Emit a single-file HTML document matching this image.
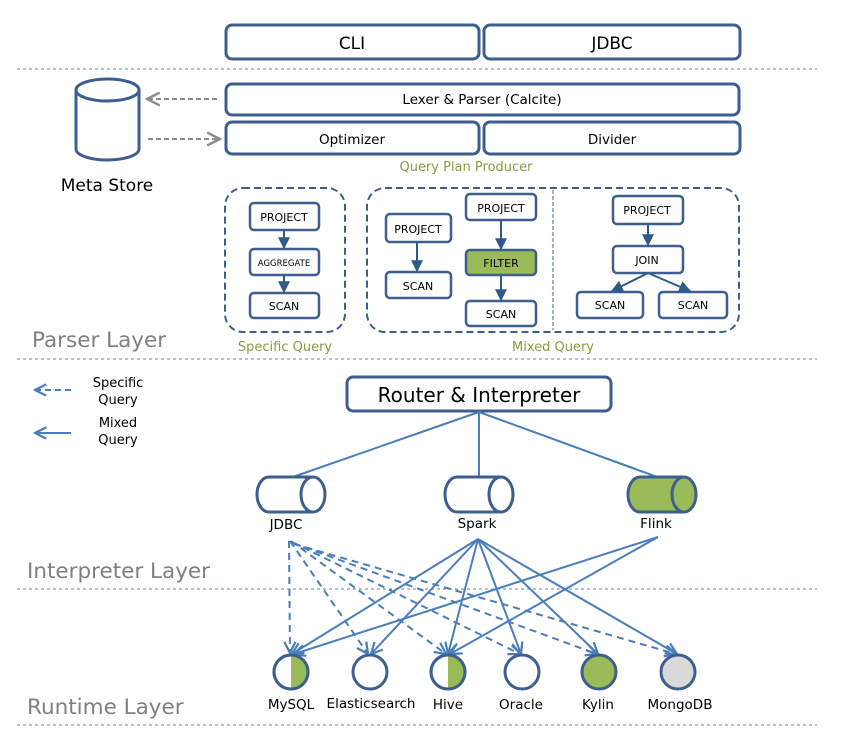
<!DOCTYPE html>
<html><head><meta charset="utf-8"><style>
html,body{margin:0;padding:0;background:#fff}
svg{display:block}
text{font-family:"DejaVu Sans","Liberation Sans",sans-serif}
</style></head><body>
<svg width="853" height="737" viewBox="0 0 853 737" xmlns="http://www.w3.org/2000/svg">
<defs>
<marker id="ab" viewBox="0 0 10 10" refX="9" refY="5" markerWidth="7" markerHeight="7" orient="auto-start-reverse"><path d="M1,1 L9,5 L1,9" fill="none" stroke="#4a7ebb" stroke-width="1.6"/></marker>
<marker id="ag" viewBox="0 0 10 10" refX="9" refY="5" markerWidth="8" markerHeight="8" orient="auto-start-reverse"><path d="M1,1 L9,5 L1,9" fill="none" stroke="#8c8c8c" stroke-width="1.5"/></marker>
<marker id="ad" viewBox="0 0 10 10" refX="9" refY="5" markerWidth="6" markerHeight="6" orient="auto"><path d="M0,0 L10,5 L0,10 z" fill="#2e5a8a"/></marker>
</defs>
<g stroke="#5a86bd" stroke-width="1" stroke-dasharray="3,3">
<line x1="17" y1="69" x2="817" y2="69"/><line x1="17" y1="359" x2="817" y2="359"/>
<line x1="17" y1="589" x2="817" y2="589"/><line x1="17" y1="725" x2="817" y2="725"/>
</g>
<g fill="#fff" stroke="#3d5f8f" stroke-width="3">
<rect x="226" y="25" width="253" height="34" rx="6"/><rect x="484" y="25" width="256" height="34" rx="6"/>
<rect x="226" y="84" width="513" height="31" rx="6"/>
<rect x="226" y="122" width="253" height="32" rx="6"/><rect x="484" y="122" width="256" height="32" rx="6"/>
</g>
<g font-size="17" text-anchor="middle" fill="#000">
<text x="352" y="49">CLI</text><text x="612" y="49">JDBC</text>
</g>
<g font-size="13.5" text-anchor="middle" fill="#000">
<text x="482" y="104">Lexer &amp; Parser (Calcite)</text>
<text x="352" y="144">Optimizer</text><text x="612" y="144">Divider</text>
</g>
<text x="466" y="171" font-size="13" fill="#8a9a40" text-anchor="middle">Query Plan Producer</text>
<g fill="#fff" stroke="#3d5f8f" stroke-width="3">
<path d="M76,90 L76,149 A31.5,11 0 0 0 139,149 L139,90"/>
<ellipse cx="107.5" cy="90" rx="31.5" ry="11"/>
</g>
<text x="107" y="191" font-size="17" text-anchor="middle">Meta Store</text>
<g stroke="#8c8c8c" stroke-width="2" stroke-dasharray="5,3" fill="none">
<line x1="217" y1="99" x2="147" y2="99" marker-end="url(#ag)"/>
<line x1="148" y1="139" x2="220" y2="139" marker-end="url(#ag)"/>
</g>
<g fill="none" stroke="#3d5f8f" stroke-width="2" stroke-dasharray="7,4">
<rect x="225" y="188" width="120" height="144" rx="18"/>
<rect x="367" y="188" width="372" height="144" rx="18"/>
</g>
<line x1="553" y1="190" x2="553" y2="330" stroke="#3d5f8f" stroke-width="1" stroke-dasharray="4,2"/>
<g fill="#fff" stroke="#3d5f8f" stroke-width="2.5">
<rect x="250" y="203" width="69" height="27" rx="4"/><rect x="250" y="249" width="69" height="26" rx="4"/><rect x="250" y="293" width="69" height="25" rx="4"/>
<rect x="386" y="214" width="65" height="28" rx="4"/><rect x="386" y="272" width="65" height="26" rx="4"/>
<rect x="466" y="194" width="70" height="26" rx="4"/><rect x="466" y="250" width="70" height="25" rx="4" fill="#9bbb59"/><rect x="466" y="301" width="70" height="25" rx="4"/>
<rect x="613" y="196" width="70" height="28" rx="4"/><rect x="613" y="246" width="70" height="27" rx="4"/>
<rect x="577" y="292" width="66" height="26" rx="4"/><rect x="659" y="292" width="68" height="26" rx="4"/>
</g>
<g stroke="#2e5a8a" stroke-width="2" marker-end="url(#ad)">
<line x1="284" y1="230" x2="284" y2="248"/><line x1="284" y1="275" x2="284" y2="292"/>
<line x1="417" y1="242" x2="417" y2="271"/><line x1="501" y1="220" x2="501" y2="249"/><line x1="501" y1="275" x2="501" y2="300"/>
<line x1="648" y1="224" x2="648" y2="245"/><line x1="648" y1="273" x2="612" y2="291"/><line x1="648" y1="273" x2="690" y2="291"/>
</g>
<g font-size="11" text-anchor="middle" fill="#000">
<text x="284" y="221">PROJECT</text><text x="284" y="266" font-size="8.5">AGGREGATE</text><text x="284" y="310">SCAN</text>
<text x="418" y="233">PROJECT</text><text x="418" y="290">SCAN</text>
<text x="501" y="212">PROJECT</text><text x="501" y="267">FILTER</text><text x="501" y="318">SCAN</text>
<text x="647" y="214">PROJECT</text><text x="647" y="264">JOIN</text>
<text x="610" y="309">SCAN</text><text x="693" y="309">SCAN</text>
</g>
<g font-size="13" fill="#8a9a40" text-anchor="middle">
<text x="285" y="351">Specific Query</text><text x="553" y="351">Mixed Query</text>
</g>
<g font-size="21.5" fill="#808080">
<text x="32" y="347">Parser  Layer</text>
<text x="27" y="578">Interpreter Layer</text>
<text x="27" y="714">Runtime Layer</text>
</g>
<line x1="71" y1="390" x2="35" y2="390" stroke="#4a7ebb" stroke-width="2" stroke-dasharray="6,4" marker-end="url(#ab)"/>
<line x1="71" y1="433" x2="35" y2="433" stroke="#4a7ebb" stroke-width="2" marker-end="url(#ab)"/>
<g font-size="13" text-anchor="middle">
<text x="118" y="387">Specific</text><text x="118" y="404">Query</text>
<text x="118" y="427">Mixed</text><text x="118" y="444">Query</text>
</g>
<rect x="347" y="377" width="264" height="34" rx="6" fill="#fff" stroke="#3d5f8f" stroke-width="3"/>
<text x="479" y="402" font-size="20" text-anchor="middle">Router &amp; Interpreter</text>
<g stroke="#4a7ebb" stroke-width="2">
<line x1="479" y1="412" x2="290" y2="478"/><line x1="479" y1="412" x2="479" y2="478"/><line x1="479" y1="412" x2="660" y2="478"/>
</g>
<g stroke="#3d5f8f" stroke-width="3">
<path d="M313,477 L269,477 A12,17.5 0 0 0 269,512 L313,512" fill="#fff"/><ellipse cx="313" cy="494.5" rx="12" ry="17.5" fill="#fff"/>
<path d="M501,477 L457,477 A12,17.5 0 0 0 457,512 L501,512" fill="#fff"/><ellipse cx="501" cy="494.5" rx="12" ry="17.5" fill="#fff"/>
<path d="M684,477 L640,477 A12,17.5 0 0 0 640,512 L684,512" fill="#9bbb59"/><ellipse cx="684" cy="494.5" rx="12" ry="17.5" fill="#9bbb59"/>
</g>
<g font-size="13.5" text-anchor="middle">
<text x="286" y="529">JDBC</text><text x="477" y="528">Spark</text><text x="656" y="528">Flink</text>
</g>
<g stroke="#4a7ebb" stroke-width="2" fill="none" stroke-dasharray="7,5" marker-end="url(#ab)">
<line x1="289" y1="541" x2="290" y2="653" /><line x1="290" y1="541" x2="368" y2="654"/>
<line x1="291" y1="541" x2="446" y2="654"/><line x1="292" y1="542" x2="520" y2="654"/>
<line x1="293" y1="543" x2="597" y2="654"/><line x1="294" y1="544" x2="676" y2="654"/>
</g>
<g stroke="#4a7ebb" stroke-width="2" fill="none" marker-end="url(#ab)">
<line x1="478" y1="539" x2="292" y2="654"/><line x1="478" y1="539" x2="371" y2="654"/>
<line x1="478" y1="539" x2="448" y2="654"/><line x1="478" y1="539" x2="521" y2="654"/>
<line x1="478" y1="539" x2="598" y2="654"/><line x1="478" y1="539" x2="677" y2="654"/>
<line x1="658" y1="537" x2="294" y2="654"/><line x1="658" y1="537" x2="450" y2="654"/>
</g>
<g stroke="#3d5f8f" stroke-width="3">
<circle cx="291" cy="672" r="17" fill="#fff"/><path d="M291,655 A17,17 0 0 1 291,689 Z" fill="#9bbb59" stroke="none"/><circle cx="291" cy="672" r="17" fill="none"/>
<circle cx="370" cy="672" r="17" fill="#fff"/>
<circle cx="448" cy="672" r="17" fill="#fff"/><path d="M448,655 A17,17 0 0 1 448,689 Z" fill="#9bbb59" stroke="none"/><circle cx="448" cy="672" r="17" fill="none"/>
<circle cx="522" cy="672" r="17" fill="#fff"/>
<circle cx="599" cy="672" r="17" fill="#9bbb59"/>
<circle cx="678" cy="672" r="17" fill="#d9d9d9"/>
</g>
<g font-size="13.5" text-anchor="middle">
<text x="291" y="709">MySQL</text><text x="371" y="708">Elasticsearch</text><text x="448" y="709">Hive</text>
<text x="521" y="709">Oracle</text><text x="598" y="709">Kylin</text><text x="680" y="709">MongoDB</text>
</g>
</svg>
</body></html>
